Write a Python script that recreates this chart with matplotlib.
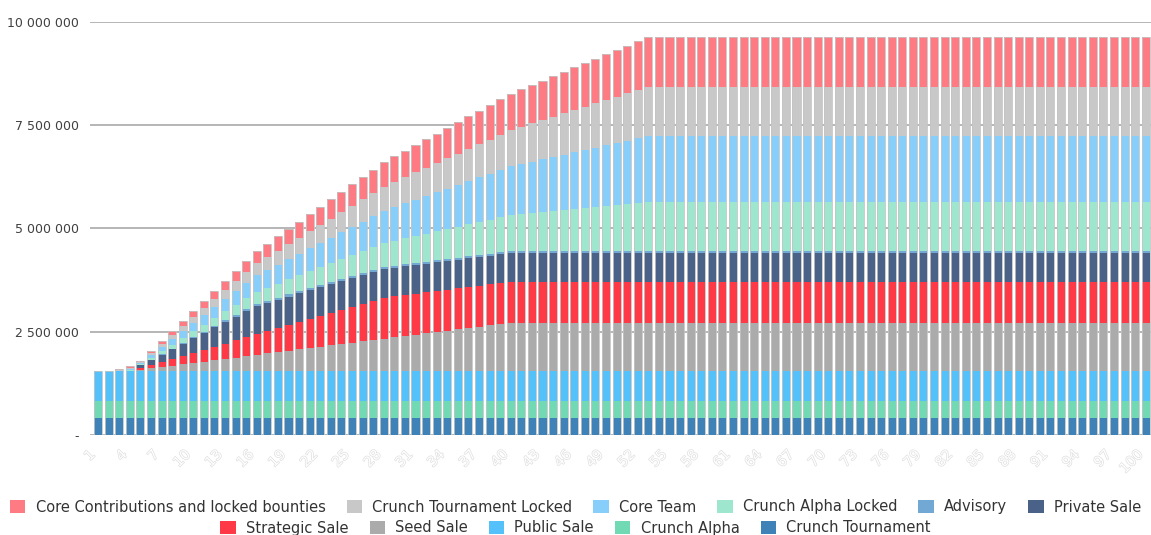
import matplotlib
matplotlib.use("Agg")
import matplotlib.pyplot as plt
import matplotlib.patheffects as pe
from matplotlib.patches import Patch
from matplotlib.ticker import FuncFormatter
import numpy as np

# month index 1..100
months = [str(m) for m in range(1, 101)]

# values in thousands of tokens (bottom of stack first)
crunch_tournament = [400] * 100
crunch_alpha = [420] * 100
public_sale = [730] * 100
seed_sale = [0] * 4 + [33, 65, 98, 130, 163, 195, 228, 260, 293, 325,
                       358, 390, 423, 455, 488, 520, 553, 585, 618, 650,
                       683, 715, 748, 780, 813, 845, 878, 910, 943, 975,
                       1008, 1040, 1073, 1105, 1138] + [1170] * 61
strategic_sale = [0] * 4 + [41, 83, 124, 165, 206, 248, 289, 330, 371, 413,
                            454, 495, 536, 578, 619, 660, 701, 743, 784, 825,
                            866, 908, 949] + [990] * 73
private_sale = [0] * 4 + [58, 116, 174, 232, 290, 348, 405, 463, 521, 579,
                          637] + [695] * 85
advisory = [0] * 4 + [4, 8, 12, 16, 20, 25, 29, 33, 37, 41, 45] + [50] * 85
crunch_alpha_locked = [0, 0, 0, 20] + [24, 48, 73, 97, 121, 145, 169, 193, 218, 242,
                                       266, 290, 314, 339, 363, 387, 411, 435, 459, 484,
                                       508, 532, 556, 580, 605, 629, 653, 677, 701, 725,
                                       750, 774, 798, 822, 846, 870, 895, 919, 943, 967,
                                       991, 1015, 1040, 1064, 1088, 1112, 1136, 1161] + [1185] * 48
core_team = [0, 0, 0, 30] + [33, 65, 98, 131, 163, 196, 229, 261, 294, 327,
                             359, 392, 424, 457, 490, 522, 555, 588, 620, 653,
                             686, 718, 751, 784, 816, 849, 882, 914, 947, 980,
                             1012, 1045, 1078, 1110, 1143, 1176, 1208, 1241, 1273, 1306,
                             1339, 1371, 1404, 1437, 1469, 1502, 1535, 1567] + [1600] * 48
tournament_locked = [0, 0, 20, 30] + [24, 49, 73, 98, 122, 146, 171, 195, 220, 244,
                                      268, 293, 317, 341, 366, 390, 415, 439, 463, 488,
                                      512, 537, 561, 585, 610, 634, 659, 683, 707, 732,
                                      756, 780, 805, 829, 854, 878, 902, 927, 951, 976,
                                      1000, 1024, 1049, 1073, 1098, 1122, 1146, 1171] + [1195] * 48
core_contrib = [0, 0, 20, 40] + [25, 49, 74, 98, 123, 148, 172, 197, 221, 246,
                                 271, 295, 320, 344, 369, 393, 418, 443, 467, 492,
                                 516, 541, 566, 590, 615, 639, 664, 689, 713, 738,
                                 762, 787, 811, 836, 861, 885, 910, 934, 959, 984,
                                 1008, 1033, 1057, 1082, 1107, 1131, 1156, 1180] + [1205] * 48

series = [
    ("Crunch Tournament", crunch_tournament, "#3f82b8"),
    ("Crunch Alpha", crunch_alpha, "#72d9b5"),
    ("Public Sale", public_sale, "#55c1fb"),
    ("Seed Sale", seed_sale, "#ababab"),
    ("Strategic Sale", strategic_sale, "#ff3a46"),
    ("Private Sale", private_sale, "#4a6288"),
    ("Advisory", advisory, "#72a8d4"),
    ("Crunch Alpha Locked", crunch_alpha_locked, "#9fe6cf"),
    ("Core Team", core_team, "#87cefa"),
    ("Crunch Tournament Locked", tournament_locked, "#c8c8c8"),
    ("Core Contributions and locked bounties", core_contrib, "#ff7b84"),
]

fig = plt.figure(figsize=(11.51, 5.35), dpi=100)
ax = fig.add_axes([0.078, 0.187, 0.922, 0.772])

x = np.arange(len(months))
width = 0.76
bottom = np.zeros(len(months))
handles = {}
for name, vals, col in series:
    v = np.array(vals, dtype=float) * 1000
    ax.bar(x, v, width, bottom=bottom, color=col, linewidth=0, zorder=2)
    bottom += v
    handles[name] = Patch(facecolor=col, edgecolor="none")
# faint outline round each stacked column
ax.bar(x, bottom, width, fill=False, edgecolor="#c4c4c4", linewidth=0.6, zorder=3)

ax.set_ylim(0, 10_000_000)
ax.set_xlim(-0.78, 99.5)
ax.set_yticks([0, 2_500_000, 5_000_000, 7_500_000, 10_000_000])
ax.yaxis.set_major_formatter(FuncFormatter(
    lambda v, p: "-" if v == 0 else f"{int(v):,}".replace(",", " ")))
ax.grid(axis="y", color="#b5b5b5", linewidth=1.4, zorder=0)
ax.set_axisbelow(True)
for s in ax.spines.values():
    s.set_visible(False)
ax.tick_params(axis="y", length=0, pad=8, labelsize=9, labelcolor="#404040")

ax.set_xticks(x[::3])
ax.set_xticklabels(months[::3], rotation=45, ha="right", fontsize=10, color="white")
for t in ax.get_xticklabels():
    t.set_path_effects([pe.withStroke(linewidth=1.0, foreground="#e0e0e0")])
ax.tick_params(axis="x", length=0, pad=9)

row1 = ["Core Contributions and locked bounties", "Crunch Tournament Locked", "Core Team",
        "Crunch Alpha Locked", "Advisory", "Private Sale"]
row2 = ["Strategic Sale", "Seed Sale", "Public Sale", "Crunch Alpha", "Crunch Tournament"]
common = dict(frameon=False, fontsize=10.5, handlelength=1.05, handleheight=1.05,
              handletextpad=0.7, columnspacing=1.45, labelcolor="#333333",
              borderaxespad=0, borderpad=0)
fig.legend([handles[n] for n in row1], row1, ncol=6, loc="center",
           bbox_to_anchor=(0.5, 1 - 507 / 535), **common)
fig.legend([handles[n] for n in row2], row2, ncol=5, loc="center",
           bbox_to_anchor=(0.5, 1 - 528 / 535), **common)

fig.savefig("out.png", dpi=100)
